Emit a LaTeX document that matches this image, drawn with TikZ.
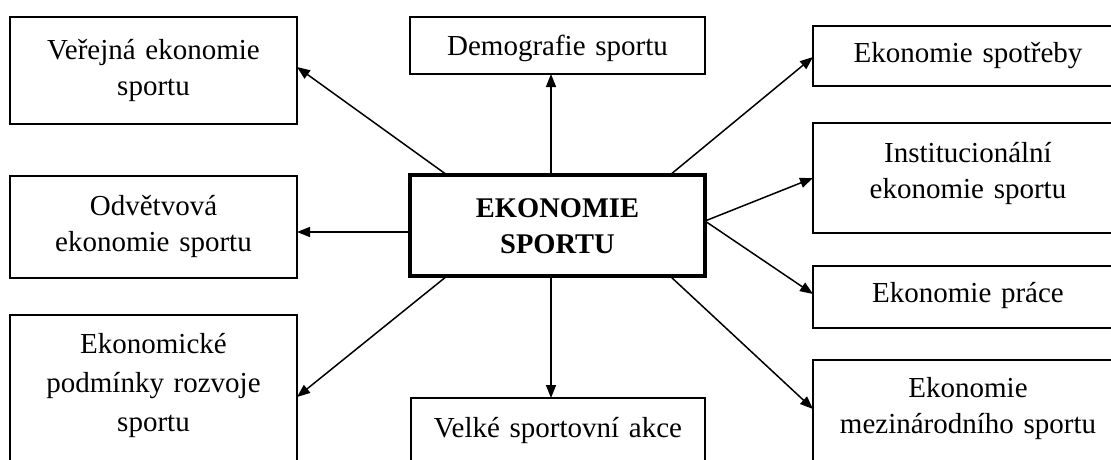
\documentclass[tikz,border=0pt]{standalone}
\usepackage{fontspec}
\setmainfont{Liberation Serif}
\usetikzlibrary{arrows.meta}
\begin{document}
\begin{tikzpicture}[x=1pt,y=-1pt,
  box/.style={draw=black,line width=1.6pt,rectangle,outer sep=0pt,inner sep=0pt,anchor=north west},
  mainbox/.style={box,line width=4.5pt},
  txt/.style={anchor=base,align=center,inner sep=0pt,font=\fontsize{29}{36}\selectfont},
  arr/.style={line width=1.5pt,-{Triangle[length=13pt,width=10pt]}}]
\useasboundingbox (0,0) rectangle (1111,459);
\clip (0,0) rectangle (1111,459);
% boxes
\node[box,minimum width=287pt,minimum height=107pt] (v) at (10,17) {};
\node[box,minimum width=295pt,minimum height=57pt] (d) at (410,17) {};
\node[box,minimum width=310pt,minimum height=60pt] (s) at (813,26) {};
\node[box,minimum width=310pt,minimum height=110pt] (i) at (813,123) {};
\node[box,minimum width=310pt,minimum height=62pt] (p) at (813,266) {};
\node[box,minimum width=310pt,minimum height=130pt] (m) at (813,360) {};
\node[box,minimum width=287pt,minimum height=102pt] (o) at (10,176) {};
\node[box,minimum width=287pt,minimum height=170pt] (e) at (10,315) {};
\node[mainbox,minimum width=295pt,minimum height=101pt] (c) at (410,175) {};
\node[box,minimum width=294pt,minimum height=90pt] (vs) at (411,398) {};
% texts
\node[txt,text width=280pt] (vt) at ([yshift=-42pt]v.north) {Veřejná ekonomie\\sportu};
\node[txt,text width=290pt] (dt) at ([yshift=-38pt]d.north) {Demografie sportu};
\node[txt,text width=300pt] (st) at ([yshift=-36pt,xshift=-0pt]s.north) {Ekonomie spotřeby};
\node[txt,text width=300pt] (it) at ([yshift=-39pt]i.north) {Institucionální\\ekonomie sportu};
\node[txt,text width=300pt] (pt) at ([yshift=-36pt]p.north) {Ekonomie práce};
\node[txt,text width=300pt] (mt) at ([yshift=-37pt]m.north) {Ekonomie\\mezinárodního sportu};
\node[txt,text width=280pt] (ot) at ([yshift=-39pt]o.north) {Odvětvová\\ekonomie sportu};
\node[txt,text width=280pt,font=\fontsize{29}{39}\selectfont] (et) at ([yshift=-38pt]e.north) {Ekonomické\\podmínky rozvoje\\sportu};
\node[txt,text width=290pt,font=\fontsize{28.5}{36}\selectfont\bfseries] (ct) at ([yshift=-42pt]c.north) {EKONOMIE\\SPORTU};
\node[txt,text width=290pt] (vst) at ([yshift=-39pt]vs.north) {Velké sportovní akce};
% connectors
\coordinate (cnw) at ([xshift=37pt]c.north west);
\coordinate (cne) at ([xshift=-35pt]c.north east);
\coordinate (csw) at ([xshift=37pt]c.south west);
\coordinate (cse) at ([xshift=-35pt]c.south east);
\coordinate (cr) at ([yshift=-46pt]c.north east);
\coordinate (cl) at ([yshift=-57pt]c.north west);
\coordinate (ct0) at ([xshift=-6.5pt]c.north);
\coordinate (cb0) at ([xshift=-6.5pt]c.south);
\draw[arr] (cnw) -- ([yshift=-50pt]v.north east);
\draw[arr] (ct0) -- (ct0 |- d.south);
\draw[arr] (cne) -- ([yshift=-31pt]s.north west);
\draw[arr] (cr) -- ([yshift=-55pt]i.north west);
\draw[arr] (cr) -- ([yshift=-28pt]p.north west);
\draw[arr] (cse) -- ([yshift=-49pt]m.north west);
\draw[arr] (cl) -- (cl -| o.east);
\draw[arr] (csw) -- ([yshift=-82pt]e.north east);
\draw[arr] (cb0) -- (cb0 |- vs.north);
\end{tikzpicture}
\end{document}
